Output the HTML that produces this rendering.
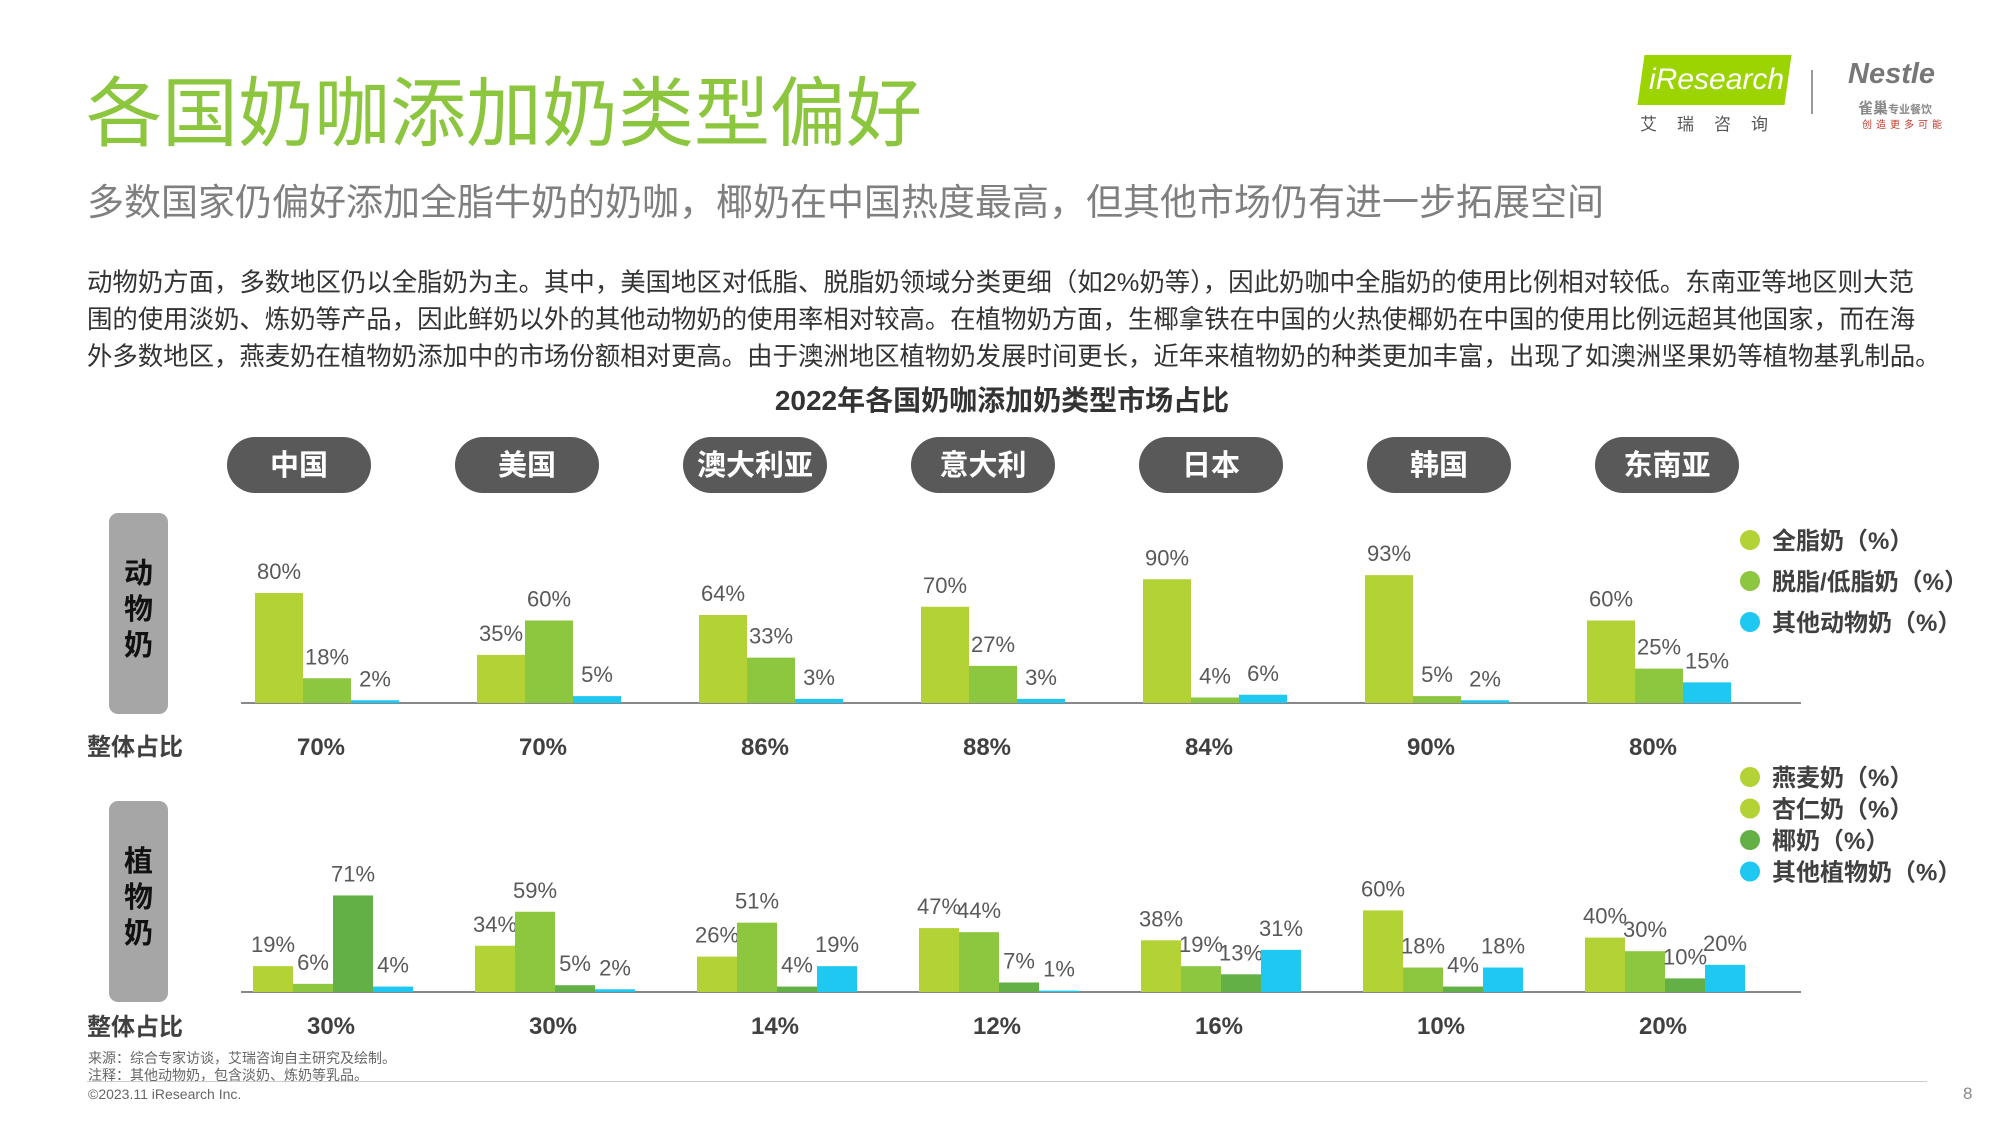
<!DOCTYPE html>
<html><head><meta charset="utf-8">
<style>
body{margin:0;background:#fff;}
#page{position:relative;width:2000px;height:1125px;overflow:hidden;background:#fff;font-family:"Liberation Sans","Noto Sans CJK SC",sans-serif;}
.abs{position:absolute;white-space:nowrap;}
</style></head>
<body>
<div id="page">
<div class="abs" style="left:86px;top:70px;font-size:76px;color:#8cc63e;line-height:90px;">各国奶咖添加奶类型偏好</div>
<div class="abs" style="left:87px;top:179px;font-size:37px;color:#7f7f7f;line-height:48px;">多数国家仍偏好添加全脂牛奶的奶咖，椰奶在中国热度最高，但其他市场仍有进一步拓展空间</div>
<div class="abs" style="left:87px;top:265px;font-size:25.4px;color:#333;line-height:37px;">动物奶方面，多数地区仍以全脂奶为主。其中，美国地区对低脂、脱脂奶领域分类更细（如2%奶等），因此奶咖中全脂奶的使用比例相对较低。东南亚等地区则大范<br>围的使用淡奶、炼奶等产品，因此鲜奶以外的其他动物奶的使用率相对较高。在植物奶方面，生椰拿铁在中国的火热使椰奶在中国的使用比例远超其他国家，而在海<br>外多数地区，燕麦奶在植物奶添加中的市场份额相对更高。由于澳洲地区植物奶发展时间更长，近年来植物奶的种类更加丰富，出现了如澳洲坚果奶等植物基乳制品。</div>
<div class="abs" style="left:1641px;top:55px;width:147px;height:50px;">
 <div style="position:absolute;left:0;top:0;width:147px;height:50px;background:#9bd400;transform:skewX(-8deg);"></div>
 <div style="position:absolute;left:8px;top:8px;color:#fff;font-size:30px;font-style:italic;">iResearch</div>
</div>
<div class="abs" style="left:1640px;top:110px;font-size:17px;color:#555;letter-spacing:20px;">艾瑞咨询</div>
<div class="abs" style="left:1811px;top:70px;width:2px;height:44px;background:#999;"></div>
<div class="abs" style="left:1848px;top:58px;font-size:29px;color:#777;font-weight:bold;font-style:italic;">Nestle</div>
<div class="abs" style="left:1858px;top:97px;font-size:15px;color:#888;font-weight:bold;">雀巢<span style="font-size:11px;">专业餐饮</span></div>
<div class="abs" style="left:1862px;top:116px;font-size:10px;color:#c0392b;letter-spacing:4px;">创造更多可能</div>
<svg id="chart" width="2000" height="1125" style="position:absolute;left:0;top:0;"></svg>
<div class="abs" style="left:88px;top:1048px;font-size:14px;color:#666;">来源：综合专家访谈，艾瑞咨询自主研究及绘制。</div>
<div class="abs" style="left:88px;top:1065px;font-size:14px;color:#666;">注释：其他动物奶，包含淡奶、炼奶等乳品。</div>
<div class="abs" style="left:87px;top:1081px;width:1840px;height:1px;background:#ccc;"></div>
<div class="abs" style="left:88px;top:1086px;font-size:14px;color:#666;">©2023.11 iResearch Inc.</div>
<div class="abs" style="left:1963px;top:1084px;font-size:17px;color:#888;">8</div>
</div>
<script>
const countries=["中国","美国","澳大利亚","意大利","日本","韩国","东南亚"];
const animalFull=[80,35,64,70,90,93,60];
const animalSkim=[18,60,33,27,4,5,25];
const animalOther=[2,5,3,3,6,2,15];
const animalTotal=["70%","70%","86%","88%","84%","90%","80%"];
const plantOat=[19,34,26,47,38,60,40];
const plantAlmond=[6,59,51,44,19,18,30];
const plantCoconut=[71,5,4,7,13,4,10];
const plantOther=[4,2,19,1,31,18,20];
const plantTotal=["30%","30%","14%","12%","16%","10%","20%"];
const animalLegend=["全脂奶（%）","脱脂/低脂奶（%）","其他动物奶（%）"];
const plantLegend=["燕麦奶（%）","杏仁奶（%）","椰奶（%）","其他植物奶（%）"];

const NS="http://www.w3.org/2000/svg";
const svg=document.getElementById('chart');
function mk(tag,attrs,text){const e=document.createElementNS(NS,tag);for(const k in attrs)e.setAttribute(k,attrs[k]);if(text!==undefined)e.textContent=text;svg.appendChild(e);return e;}
const F='"Liberation Sans","Noto Sans CJK SC",sans-serif';
const C1='#b2d235',C2='#8dc63f',C3='#62b046',CB='#1fc8f0';
const pillX=i=>299+i*228;
const aGroup=i=>255+i*222;
const pGroup=i=>253+i*222;
const AB=703, PB=992;
const aY=v=>AB-v*1.375;
const pY=v=>PB-v*1.36;

let t=mk('text',{x:1002,y:410,'text-anchor':'middle','font-size':28,'font-weight':'bold',fill:'#333','font-family':F},"2022年各国奶咖添加奶类型市场占比");



countries.forEach((c,i)=>{
 let r=mk('rect',{x:pillX(i)-72,y:437,width:144,height:56,rx:28,fill:'#595959'});
 
 
 let tx=mk('text',{x:pillX(i),y:475,'text-anchor':'middle','font-size':29,'font-weight':'bold',fill:'#fff','font-family':F},c);
 
 
});

[[513,"动物奶","animal-milk-label"],[801,"植物奶","plant-milk-label"]].forEach(([y,s,n])=>{
 let r=mk('rect',{x:109,y:y,width:59,height:201,rx:9,fill:'#a6a6a6'});
 
 
 [...s].forEach((ch,k)=>{
  let tx=mk('text',{x:138.5,y:y+70+k*36,'text-anchor':'middle','font-size':29,'font-weight':'bold',fill:'#111','font-family':F},ch);
  
  
 });
});

let l=mk('line',{x1:241,x2:1801,y1:AB,y2:AB,stroke:'#888','stroke-width':2});


l=mk('line',{x1:241,x2:1801,y1:PB,y2:PB,stroke:'#888','stroke-width':2});



const aSeries=[animalFull,animalSkim,animalOther],aCols=[C1,C2,CB];
countries.forEach((c,i)=>{
 aSeries.forEach((s,j)=>{
  const x=aGroup(i)+j*48,w=48,y=aY(s[i]);
  let r=mk('rect',{x:x,y:y,width:w,height:AB-y,fill:aCols[j]});
  
  
  let tx=mk('text',{x:x+w/2,y:y-14,'text-anchor':'middle','font-size':22,fill:'#595959','font-family':F},s[i]+'%');
  
  
 });
 let tx=mk('text',{x:aGroup(i)+66,y:755,'text-anchor':'middle','font-size':24,'font-weight':'bold',fill:'#404040','font-family':F},animalTotal[i]);
 
 
});

const pSeries=[plantOat,plantAlmond,plantCoconut,plantOther],pCols=[C1,C2,C3,CB];
countries.forEach((c,i)=>{
 pSeries.forEach((s,j)=>{
  const x=pGroup(i)+j*40,w=40,y=pY(s[i]);
  let r=mk('rect',{x:x,y:y,width:w,height:PB-y,fill:pCols[j]});
  
  
  let tx=mk('text',{x:x+w/2,y:y-14,'text-anchor':'middle','font-size':22,fill:'#595959','font-family':F},s[i]+'%');
  
  
 });
 let tx=mk('text',{x:pGroup(i)+78,y:1034,'text-anchor':'middle','font-size':24,'font-weight':'bold',fill:'#404040','font-family':F},plantTotal[i]);
 
 
});

[[755,"整体占比"],[1035,"整体占比"]].forEach(([y,s])=>{
 let tx=mk('text',{x:87,y:y,'font-size':24,'font-weight':'bold',fill:'#404040','font-family':F},s);
 
 
});

animalLegend.forEach((s,k)=>{
 const y=540+k*41;
 let c=mk('circle',{cx:1750,cy:y,r:10,fill:aCols[k]});
 
 
 let tx=mk('text',{x:1772,y:y+9,'font-size':24,'font-weight':'bold',fill:'#404040','font-family':F},s);
 
 
});
const pLegCols=[C1,C1,C3,CB];
plantLegend.forEach((s,k)=>{
 const y=777+k*31.5;
 let c=mk('circle',{cx:1750,cy:y,r:10,fill:pLegCols[k]});
 
 
 let tx=mk('text',{x:1772,y:y+9,'font-size':24,'font-weight':'bold',fill:'#404040','font-family':F},s);
 
 
});
</script>
</body></html>
